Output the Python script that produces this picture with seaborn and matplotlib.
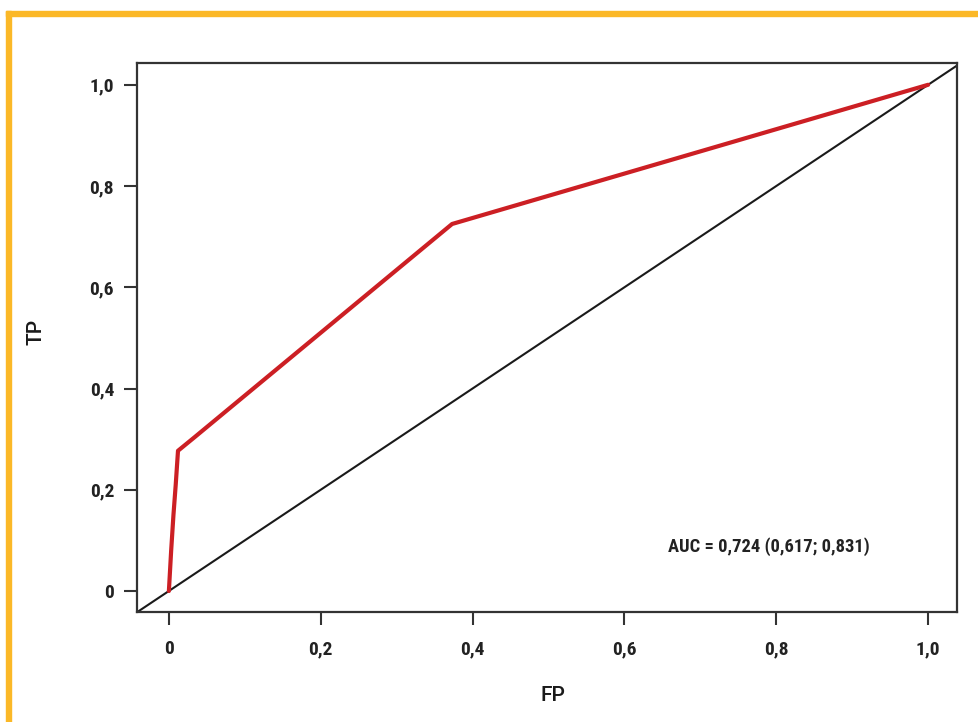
import matplotlib
matplotlib.use("Agg")
import matplotlib.pyplot as plt
from matplotlib.patches import Rectangle
import seaborn as sns
import pandas as pd

# ROC curve points (false positive rate vs. true positive rate)
fp = [0.0, 0.003, 0.006, 0.009, 0.012, 0.034, 0.373, 1.0]
tp = [0.0, 0.08, 0.15, 0.21, 0.277, 0.304, 0.725, 1.0]
ticks = [0.0, 0.2, 0.4, 0.6, 0.8, 1.0]
tick_labels = ["0", "0,2", "0,4", "0,6", "0,8", "1,0"]
auc_text = "AUC = 0,724 (0,617; 0,831)"

sns.set_theme(style="white")
narrow = ["Roboto Condensed", "DejaVu Sans"]
plain = ["Roboto", "DejaVu Sans"]

fig = plt.figure(figsize=(9.79, 7.22), dpi=100)
ax = fig.add_axes([137 / 979, 1 - 612 / 722, 820 / 979, 549 / 722])

df = pd.DataFrame({"FP": fp, "TP": tp})
sns.lineplot(data=df, x="FP", y="TP", ax=ax, color="#cc1f24", lw=3,
             sort=False, estimator=None, zorder=3)
ax.axline((0, 0), (1, 1), color="#1a1a1a", lw=1.5, zorder=2)

ax.set_xlim(-0.042, 1.038)
ax.set_ylim(-0.0415, 1.043)
ax.set_xticks(ticks)
ax.set_yticks(ticks)
ax.set_xticklabels(tick_labels, family=narrow, fontweight="bold", fontsize=14, color="#222222")
ax.set_yticklabels(tick_labels, family=narrow, fontweight="bold", fontsize=14, color="#222222")
ax.tick_params(axis="x", direction="out", length=9.5, width=1.5, color="#333333", pad=11, bottom=True)
ax.tick_params(axis="y", direction="out", length=9.5, width=1.5, color="#333333", pad=7, left=True)

for s in ax.spines.values():
    s.set_color("#333333")
    s.set_linewidth(1.6)

ax.set_xlabel("FP", family=plain, fontweight="medium", fontsize=15, color="#1a1a1a")
ax.set_ylabel("TP", family=plain, fontweight="medium", fontsize=15, color="#1a1a1a")
ax.xaxis.set_label_coords(0.507, -0.135)
ax.yaxis.set_label_coords(-0.112, 0.51)

ax.text(0.6476, 0.1184, auc_text, transform=ax.transAxes, ha="left", va="center",
        family=narrow, fontweight="bold", fontsize=13.3, color="#222222")

# Frame border along the top and left edges
border = "#fbb827"
fig.patches.append(Rectangle((6 / 979, 1 - 16 / 722), 1, 5 / 722,
                             transform=fig.transFigure, color=border, zorder=0))
fig.patches.append(Rectangle((6 / 979, 0), 5 / 979, 1 - 11 / 722,
                             transform=fig.transFigure, color=border, zorder=0))

fig.savefig("out.png", dpi=100)
